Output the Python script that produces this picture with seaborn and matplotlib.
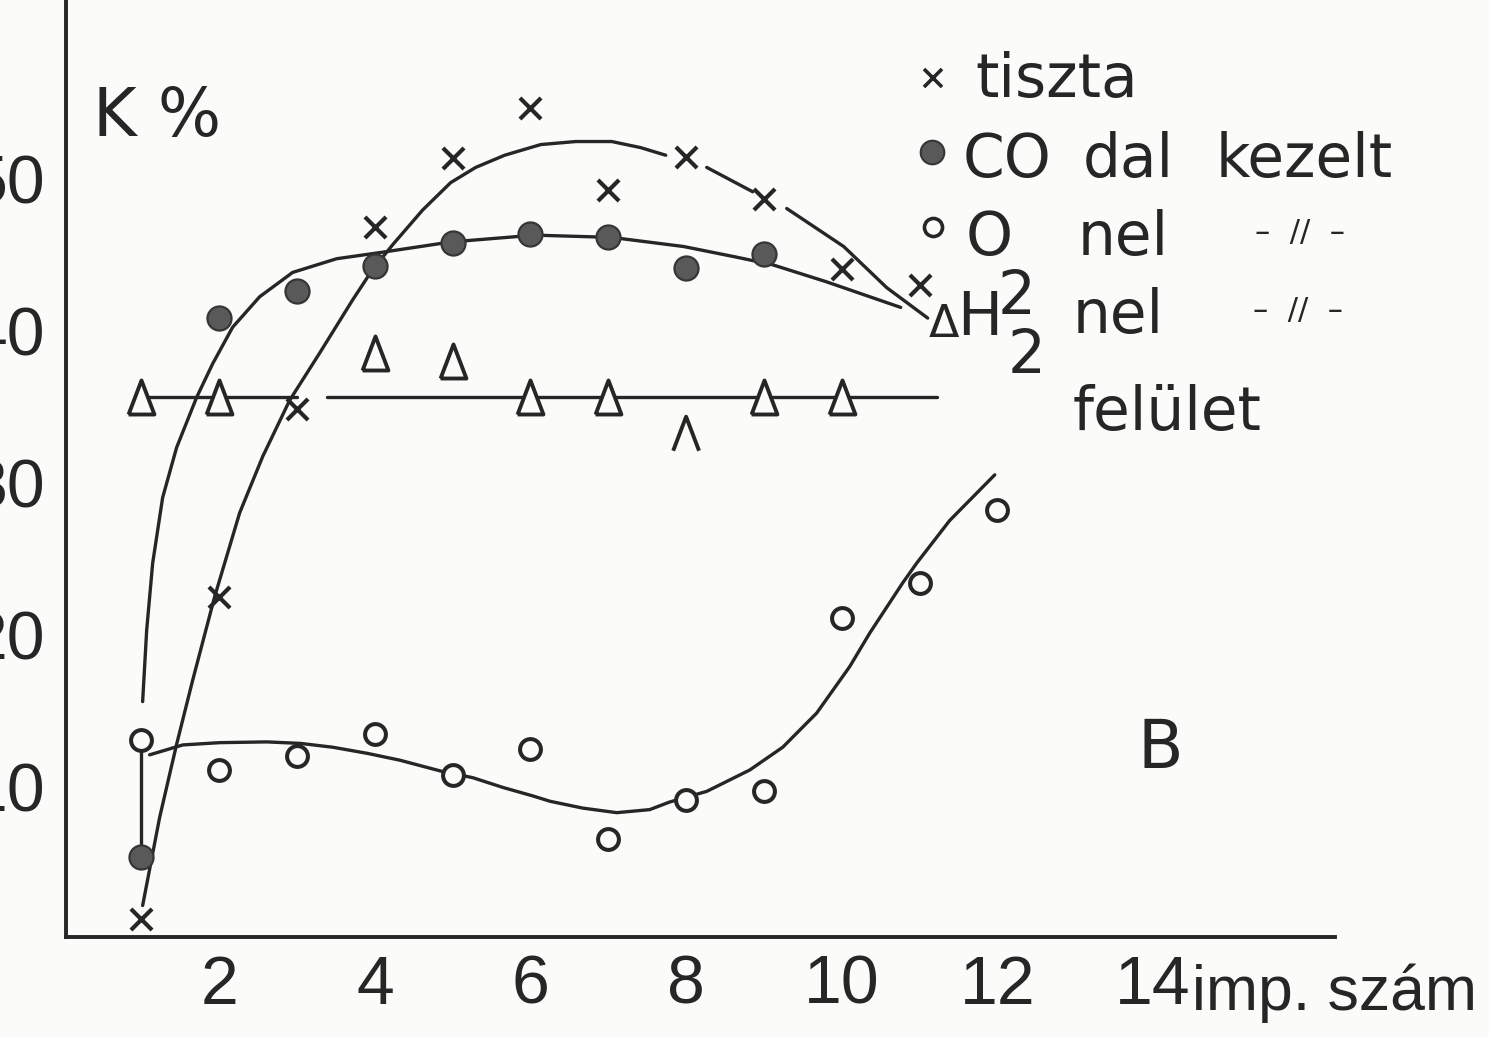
import matplotlib
matplotlib.use("Agg")
import matplotlib.pyplot as plt
from matplotlib.lines import Line2D
import numpy as np
import pandas as pd
import seaborn as sns

# ---- measured K% values per impulse number ----
tiszta_x = [1, 2, 3, 4, 5, 6, 7, 8, 9, 10, 11]
tiszta_y = [1.3, 22.5, 34.8, 46.8, 51.3, 54.6, 49.2, 51.4, 48.6, 44.0, 43.0]

co_x = [1, 2, 3, 4, 5, 6, 7, 8, 9]
co_y = [5.4, 40.8, 42.6, 44.2, 45.7, 46.3, 46.1, 44.1, 45.0]

o2_x = [1, 2, 3, 4, 5, 6, 7, 8, 9, 10, 11, 12]
o2_y = [13.1, 11.1, 12.0, 13.5, 10.8, 12.5, 6.6, 9.1, 9.7, 21.1, 23.4, 28.2]

h2_x = [1, 2, 4, 5, 6, 7, 9, 10]
h2_y = [35.6, 35.6, 38.5, 38.0, 35.6, 35.6, 35.6, 35.6]
h2_open_x = [8]          # the point drawn without a base
h2_open_y = [33.2]

# H2 surface level line (two pieces)
h2_level = 35.6
h2_line_x = [1.0, 3.0, 3.38, 11.23]
h2_line_seg = [0, 0, 1, 1]

# ---- hand-drawn trend curves ----
tiszta_fit_x = [1.015, 1.234, 1.452, 1.658, 1.941, 2.262, 2.558, 2.905, 3.290, 3.715,
                3.972, 4.242, 4.614, 4.974, 5.296, 5.668, 6.131, 6.581, 7.044, 7.416,
                7.738,
                8.265, 8.856,
                9.293, 10.026, 10.578, 11.105]
tiszta_fit_y = [2.2, 8.0, 12.8, 17.0, 22.5, 28.0, 31.7, 35.4, 38.5, 42.0,
                44.0, 45.7, 47.9, 49.7, 50.7, 51.5, 52.2, 52.4, 52.4, 52.0,
                51.5,
                50.7, 49.1,
                48.0, 45.5, 42.8, 40.8]
tiszta_fit_seg = [0] * 21 + [1] * 2 + [2] * 4

co_fit_x = [1.015, 1.067, 1.144, 1.272, 1.452, 1.710, 1.915, 2.172, 2.519, 2.943,
            3.509, 4.062, 4.974, 6.054, 7.044, 7.969, 8.650, 9.113, 9.794, 10.758]
co_fit_y = [15.6, 20.3, 24.7, 29.0, 32.3, 35.6, 37.8, 40.2, 42.2, 43.8,
            44.7, 45.1, 45.8, 46.25, 46.1, 45.5, 44.8, 44.3, 43.2, 41.5]

o2_fit_x = [1.105, 1.530, 2.005, 2.610, 3.046, 3.458, 3.900, 4.319, 4.872, 5.257,
            5.650, 6.030, 6.250, 6.671, 7.108, 7.532, 7.789, 8.265, 8.817, 9.242,
            9.679, 10.103, 10.360, 10.527, 10.784, 10.964, 11.388, 11.967]
o2_fit_y = [12.1, 12.75, 12.9, 12.95, 12.85, 12.6, 12.2, 11.75, 11.0, 10.6,
            9.95, 9.4, 9.05, 8.6, 8.3, 8.5, 9.0, 9.7, 11.1, 12.6,
            14.85, 17.9, 20.1, 21.4, 23.4, 24.7, 27.5, 30.5]

x_ticks = [2, 4, 6, 8, 10, 12, 14]
x_tick_labels = ["2", "4", "6", "8", "10", "12", "14"]
y_ticks = [10, 20, 30, 40, 50]
y_tick_labels = ["10", "20", "30", "40", "50"]

# ---- style ----
sns.set_theme(style="white")
plt.rcParams["font.family"] = ["DejaVu Sans"]
INK = "#262626"
GREY = "#595959"
PAPER = "#fbfbf9"
DIGITS = ["Liberation Sans", "DejaVu Sans"]

W, H = 1489, 1037
fig = plt.figure(figsize=(W / 100, H / 100), dpi=100, facecolor=PAPER)
ax = fig.add_axes([66 / W, 1 - 937 / H, (1335 - 66) / W, 937 / H])
ax.set_facecolor(PAPER)
ax.set_xlim(0.03, 16.34)
ax.set_ylim(0.13, 61.7)

line_kw = dict(estimator=None, sort=False, color=INK, linewidth=2.4,
               legend=False, ax=ax, zorder=2)

sns.lineplot(data=pd.DataFrame({"x": tiszta_fit_x, "y": tiszta_fit_y, "s": tiszta_fit_seg}),
             x="x", y="y", units="s", **line_kw)
sns.lineplot(data=pd.DataFrame({"x": co_fit_x, "y": co_fit_y, "s": 0}),
             x="x", y="y", units="s", **line_kw)
sns.lineplot(data=pd.DataFrame({"x": o2_fit_x, "y": o2_fit_y, "s": 0}),
             x="x", y="y", units="s", **line_kw)
sns.lineplot(data=pd.DataFrame({"x": h2_line_x, "y": h2_level, "s": h2_line_seg}),
             x="x", y="y", units="s", **line_kw)
# short connector between the first O2 and CO readings
sns.lineplot(data=pd.DataFrame({"x": [o2_x[0], co_x[0]], "y": [o2_y[0], co_y[0]], "s": 0}),
             x="x", y="y", units="s", **line_kw)

# ---- measured points ----
tri = [(-0.38, -0.5), (0.0, 0.5), (0.38, -0.5), (-0.38, -0.5)]
caret = [(-0.38, -0.5), (0.0, 0.5), (0.38, -0.5)]

sns.scatterplot(x=tiszta_x, y=tiszta_y, marker="x", s=230, color=INK,
                linewidth=3.0, ax=ax, zorder=4)
sns.scatterplot(x=co_x, y=co_y, marker="o", s=300, color=GREY,
                edgecolor="#363636", linewidth=1.6, ax=ax, zorder=4)
sns.scatterplot(x=o2_x, y=o2_y, marker="o", s=225, color=PAPER,
                edgecolor=INK, linewidth=2.9, ax=ax, zorder=4)
sns.scatterplot(x=h2_x, y=h2_y, marker=tri, s=600, color=PAPER,
                edgecolor=INK, linewidth=2.8, ax=ax, zorder=4)
sns.scatterplot(x=h2_open_x, y=h2_open_y, marker=caret, s=600, color="none",
                edgecolor=INK, linewidth=2.8, ax=ax, zorder=4)

# ---- axes ----
sns.despine(ax=ax, top=True, right=True)
for side in ("left", "bottom"):
    ax.spines[side].set_linewidth(2.8)
    ax.spines[side].set_color(INK)

ax.set_xticks(x_ticks)
ax.set_xticklabels(x_tick_labels)
ax.set_yticks(y_ticks)
ax.set_yticklabels(y_tick_labels)
ax.tick_params(axis="both", direction="in", length=14, width=2.8, color=INK,
               labelcolor=INK, labelsize=49)
ax.tick_params(axis="x", pad=12, length=12)
ax.tick_params(axis="y", pad=15)
for lab in ax.get_xticklabels() + ax.get_yticklabels():
    lab.set_family(DIGITS)
ax.set_xlabel("")
ax.set_ylabel("")


def fpos(px, py):
    return px / W, 1 - py / H


TXT = dict(color=INK, ha="left", va="baseline", fontsize=43)
DITTO = dict(color=INK, ha="center", va="baseline", fontsize=22)

fig.text(*fpos(93, 136), "K %", color=INK, ha="left", va="baseline", fontsize=48)
fig.text(*fpos(1138, 768), "B", color=INK, ha="left", va="baseline", fontsize=48)
fig.text(*fpos(1192, 1010), "imp. szám", color=INK, ha="left", va="baseline",
         fontsize=45, family=["Liberation Sans", "DejaVu Sans"])

# ---- key ----
fig.add_artist(Line2D([933 / W], [1 - 78 / H], marker="x", markersize=13,
                      markeredgewidth=2.6, color=INK, linestyle="none"))
fig.text(*fpos(975, 97), "tiszta", **TXT)

fig.add_artist(Line2D([932 / W], [1 - 152 / H], marker="o", markersize=17,
                      markerfacecolor=GREY, markeredgecolor="#363636",
                      markeredgewidth=1.5, linestyle="none"))
fig.text(*fpos(963, 177), "CO", **TXT)
fig.text(*fpos(1083, 177), "dal", **TXT)
fig.text(*fpos(1216, 177), "kezelt", **TXT)

fig.add_artist(Line2D([933 / W], [1 - 227 / H], marker="o", markersize=13,
                      markerfacecolor=PAPER, markeredgecolor=INK,
                      markeredgewidth=2.6, linestyle="none"))
fig.text(*fpos(966, 255), "O", **TXT)
fig.text(*fpos(998, 314), "2", **TXT)
fig.text(*fpos(1078, 255), "nel", **TXT)
fig.text(*fpos(1300, 241), "–  //  –", **DITTO)

fig.text(*fpos(929, 337), "Δ", color=INK, ha="left", va="baseline", fontsize=32)
fig.text(*fpos(957, 335), "H", **TXT)
fig.text(*fpos(1008, 373), "2", **TXT)
fig.text(*fpos(1073, 333), "nel", **TXT)
fig.text(*fpos(1298, 319), "–  //  –", **DITTO)

fig.text(*fpos(1073, 430), "felület", **TXT)

fig.savefig("out.png", dpi=100, facecolor=PAPER)
